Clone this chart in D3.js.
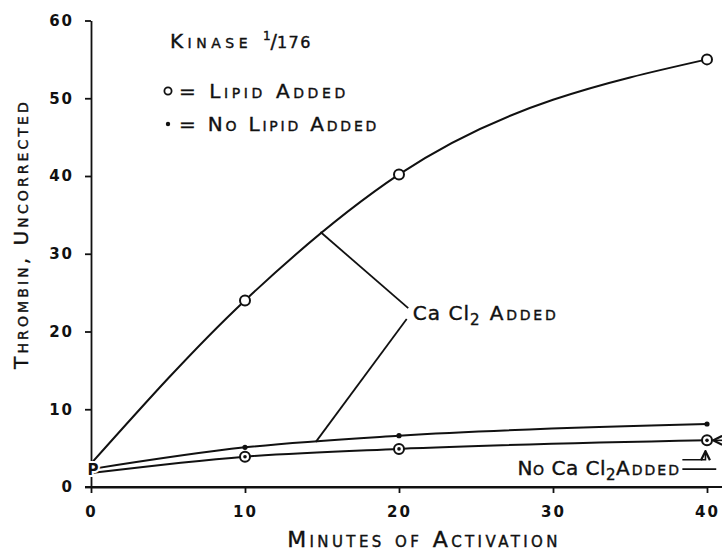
<!DOCTYPE html>
<html>
<head>
<meta charset="UTF-8">
<title>Thrombin, uncorrected</title>
<script src="https://cdn.jsdelivr.net/npm/d3@7/dist/d3.min.js"></script>
<style>
  body { margin: 0; background: #fff; }
  svg text { font-family: "DejaVu Sans", sans-serif; fill: #111; stroke: #111; stroke-width: 0.4px; }
  .sc { font-variant: small-caps; }
</style>
</head>
<body>
<svg id="chart" width="722" height="553"></svg>
<script>
// values
var minutes   = [0, 10, 20, 40];
var lipidCa   = [3.0, 24, 40.2, 55];   // o, CaCl2 added
var noLipidCa = [2.3, 5.1, 6.6, 8.1];  // •, CaCl2 added
var noCa      = [1.8, 3.9, 4.9, 6.0];  // both, no CaCl2
var xTicks = [0, 10, 20, 30, 40];
var yTicks = [0, 10, 20, 30, 40, 50, 60];

// callouts, in chart units [minutes, thrombin]
var caLeaders  = [[[14.9, 32.8], [20.6, 23.0]], [[14.6, 5.8], [20.5, 21.6]]];
var caLabel    = [20.9, 22.4];
var noCaLabel  = [27.7, 1.6];
var noCaLeader = [[38.4, 3.5], [39.9, 3.5], [39.9, 4.6]];
var noCaRule   = [[38.4, 2.3], [40.6, 2.3]];
var noCaArrow  = [[41.1, 6.0], [40.4, 6.0]];

var W = 722, H = 553;
var svg = d3.select('#chart');
svg.append('rect').attr('width', W).attr('height', H).attr('fill', '#fff');

var x = d3.scaleLinear().domain([0, 40]).range([91, 707]);
var y = d3.scaleLinear().domain([0, 60]).range([487, 20.5]);

svg.append('defs').append('marker')
  .attr('id', 'arr')
  .attr('viewBox', '0 0 10 10')
  .attr('refX', 9).attr('refY', 5)
  .attr('markerWidth', 7).attr('markerHeight', 7)
  .attr('orient', 'auto')
  .append('path')
  .attr('d', 'M1,1L9,5L1,9')
  .attr('fill', 'none').attr('stroke', '#111').attr('stroke-width', 2);

// axes
var gx = svg.append('g')
  .attr('transform', 'translate(0,' + y(0) + ')')
  .call(d3.axisBottom(x).tickValues(xTicks).tickSize(6).tickSizeOuter(0).tickPadding(13));
var gy = svg.append('g')
  .attr('transform', 'translate(' + x(0) + ',0)')
  .call(d3.axisLeft(y).tickValues(yTicks).tickSize(6).tickSizeOuter(0).tickPadding(11));

[gx, gy].forEach(function(g) {
  g.selectAll('path, line').attr('stroke', '#111').attr('stroke-width', 1.8);
  g.selectAll('text')
    .attr('fill', '#111')
    .style('font-family', '"DejaVu Sans", sans-serif')
    .style('font-size', '15px')
    .style('font-weight', 'bold')
    .style('stroke-width', '0px')
    .style('letter-spacing', '2px');
});
// axis line runs on past 40 to the edge
svg.append('line')
  .attr('x1', x(0) - 6).attr('x2', W)
  .attr('y1', y(0)).attr('y2', y(0))
  .attr('stroke', '#111').attr('stroke-width', 1.8);

// curves
var line = d3.line()
  .x(function(d) { return x(d[0]); })
  .y(function(d) { return y(d[1]); })
  .curve(d3.curveMonotoneX);

var series = [
  { key: 'lipidCa',   vals: d3.zip(minutes, lipidCa),   mark: 'open' },
  { key: 'noLipidCa', vals: d3.zip(minutes, noLipidCa), mark: 'dot' },
  { key: 'noCa',      vals: d3.zip(minutes, noCa),      mark: 'both' }
];

svg.selectAll('path.curve')
  .data(series)
  .enter().append('path')
  .attr('class', 'curve')
  .attr('d', function(s) { return line(s.vals); })
  .attr('fill', 'none')
  .attr('stroke', '#111')
  .attr('stroke-width', 2);

// points (the 0 point is the plasma "P")
series.forEach(function(s) {
  var pts = s.vals.slice(1);
  var g = svg.append('g');
  if (s.mark === 'open' || s.mark === 'both') {
    g.selectAll('circle.o').data(pts).enter().append('circle')
      .attr('cx', function(d) { return x(d[0]); })
      .attr('cy', function(d) { return y(d[1]); })
      .attr('r', 5)
      .attr('fill', '#fff').attr('stroke', '#111').attr('stroke-width', 2);
  }
  if (s.mark === 'dot' || s.mark === 'both') {
    g.selectAll('circle.d').data(pts).enter().append('circle')
      .attr('cx', function(d) { return x(d[0]); })
      .attr('cy', function(d) { return y(d[1]); })
      .attr('r', s.mark === 'dot' ? 2.6 : 1.8)
      .attr('fill', '#111');
  }
});

svg.append('text')
  .attr('x', x(0) + 2).attr('y', y(noLipidCa[0]))
  .attr('dy', '0.36em')
  .attr('text-anchor', 'middle')
  .style('font-size', '15px').style('font-weight', 'bold')
  .style('stroke', '#fff').style('stroke-width', '4px').attr('paint-order', 'stroke')
  .text('P');

// callouts
var plain = d3.line().x(function(d) { return x(d[0]); }).y(function(d) { return y(d[1]); });
svg.selectAll('path.lead')
  .data(caLeaders)
  .enter().append('path')
  .attr('class', 'lead')
  .attr('d', plain)
  .attr('fill', 'none').attr('stroke', '#111').attr('stroke-width', 1.8);

[noCaLeader, noCaArrow].forEach(function(p) {
  svg.append('path').attr('d', plain(p))
    .attr('fill', 'none').attr('stroke', '#111').attr('stroke-width', 1.6)
    .attr('marker-end', 'url(#arr)');
});
svg.append('path').attr('d', plain(noCaRule))
  .attr('fill', 'none').attr('stroke', '#111').attr('stroke-width', 1.6);

var ca = svg.append('text')
  .attr('x', x(caLabel[0])).attr('y', y(caLabel[1]))
  .attr('dy', '0.36em')
  .style('font-size', '20px').style('letter-spacing', '1px');
ca.append('tspan').text('Ca Cl');
ca.append('tspan').attr('dy', 5).style('font-size', '15px').text('2');
ca.append('tspan').attr('dy', -5).attr('class', 'sc').style('letter-spacing', '2.8px').text(' Added');

var nc = svg.append('text')
  .attr('x', x(noCaLabel[0])).attr('y', y(noCaLabel[1]))
  .style('font-size', '20px').style('letter-spacing', '0.5px');
nc.append('tspan').attr('class', 'sc').text('No ');
nc.append('tspan').text('Ca Cl');
nc.append('tspan').attr('dy', 5).style('font-size', '15px').text('2');
nc.append('tspan').attr('dy', -5).attr('class', 'sc').style('letter-spacing', '2px').text('Added');

// legend
var kin = svg.append('text').attr('x', 170).attr('y', 48).style('font-size', '20px');
kin.append('tspan').attr('class', 'sc').style('letter-spacing', '4.5px').text('Kinase ');
kin.append('tspan').attr('dy', -8).style('font-size', '12px').text('1');
kin.append('tspan').attr('dy', 8).style('font-size', '19px').text('/');
kin.append('tspan').style('font-size', '16px').style('letter-spacing', '1.5px').text('176');

var legend = [
  { label: '= Lipid Added', mark: 'open' },
  { label: '= No Lipid Added', mark: 'dot' }
];
var lg = svg.selectAll('g.leg').data(legend).enter().append('g')
  .attr('class', 'leg')
  .attr('transform', function(d, i) { return 'translate(168,' + (91 + i * 33) + ')'; });
lg.append('circle')
  .attr('r', function(d) { return d.mark === 'open' ? 3.6 : 2.2; })
  .attr('fill', function(d) { return d.mark === 'open' ? '#fff' : '#111'; })
  .attr('stroke', '#111').attr('stroke-width', function(d) { return d.mark === 'open' ? 1.8 : 0; });
lg.append('text')
  .attr('class', 'sc')
  .attr('x', 11).attr('dy', '0.36em')
  .style('font-size', '20px')
  .style('letter-spacing', function(d) { return d.mark === 'open' ? '3.6px' : '2.8px'; })
  .text(function(d) { return d.label; });

// axis titles
svg.append('text')
  .attr('class', 'sc')
  .attr('x', 424).attr('y', 547)
  .attr('text-anchor', 'middle')
  .style('font-size', '22px').style('letter-spacing', '3.4px')
  .text('Minutes of Activation');

svg.append('text')
  .attr('class', 'sc')
  .attr('transform', 'translate(28,234) rotate(-90)')
  .attr('text-anchor', 'middle')
  .style('font-size', '20px').style('letter-spacing', '3.1px')
  .text('Thrombin, Uncorrected');
</script>
</body>
</html>
